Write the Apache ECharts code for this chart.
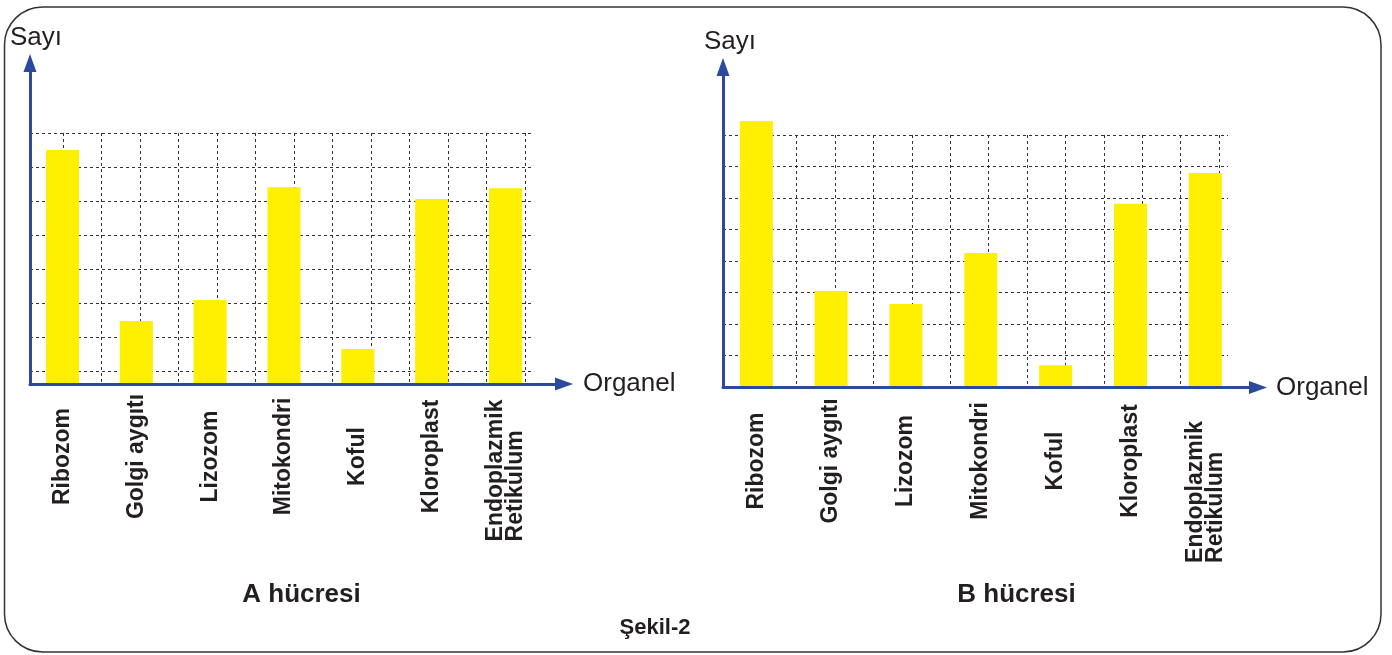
<!DOCTYPE html>
<html>
<head>
<meta charset="utf-8">
<script src="https://cdn.jsdelivr.net/npm/echarts@6/dist/echarts.min.js"></script>
<style>
html,body{margin:0;padding:0;background:#ffffff;}
#c{width:1392px;height:655px;}
</style>
</head>
<body>
<div id="c"></div>
<script>
// ---------- data ----------
const categories = ['Ribozom', 'Golgi aygıtı', 'Lizozom', 'Mitokondri', 'Koful', 'Kloroplast', 'Endoplazmik\nRetikulum'];
// values in grid-square units ("Sayı")
const valuesA = [6.88, 1.85, 2.47, 5.79, 1.03, 5.44, 5.76];
const valuesB = [8.46, 3.06, 2.65, 4.27, 0.71, 5.83, 6.81];
const titleA = 'A hücresi';
const titleB = 'B hücresi';
const figureTitle = 'Şekil-2';
const yAxisName = 'Sayı';
const xAxisName = 'Organel';
const hRowsA = 7, vColsA = 12;
const hRowsB = 8, vColsB = 12;
const barMaxA = 7.5, barMaxB = 9;

// ---------- styling ----------
const FONT = "'Liberation Sans', Arial, Helvetica, sans-serif";
const TXT = '#231f20';
const BLUE = '#2b4a9e';
const YELLOW = '#ffef00';
const GRIDLINE = { color: '#333', width: 1, type: [3, 3] };

const grids = [], xAxes = [], yAxes = [], series = [];

function hidden(extra) {
  return Object.assign({
    type: 'value', min: 0, max: 1,
    axisLine: { show: false }, axisTick: { show: false },
    axisLabel: { show: false }, splitLine: { show: false }
  }, extra || {});
}

function addChart(cfg) {
  // 1) axes with arrows
  let g = grids.length;
  grids.push(cfg.axes);
  xAxes.push(hidden({
    gridIndex: g, position: 'bottom', z: 5,
    axisLine: { show: true, onZero: false, symbol: ['none', 'triangle'], symbolSize: [13, 18],
      lineStyle: { color: BLUE, width: 3 } },
    name: xAxisName, nameLocation: 'end', nameGap: cfg.xNameGap,
    nameTextStyle: { fontSize: 26, color: TXT, fontFamily: FONT }
  }));
  yAxes.push(hidden({
    gridIndex: g, position: 'left', z: 5,
    axisLine: { show: true, onZero: false, symbol: ['none', 'triangle'], symbolSize: [13, 18],
      lineStyle: { color: BLUE, width: 3 } },
    name: yAxisName, nameLocation: 'end', nameGap: 12,
    nameTextStyle: { fontSize: 26, color: TXT, fontFamily: FONT, padding: [0, 0, 0, cfg.yNamePad] }
  }));

  // 2) horizontal dashed grid lines
  g = grids.length;
  grids.push(cfg.hgrid);
  xAxes.push(hidden({ gridIndex: g }));
  yAxes.push(hidden({ gridIndex: g, max: cfg.hRows, interval: 1,
    splitLine: { show: true, showMinLine: true, showMaxLine: true, lineStyle: GRIDLINE } }));

  // 3) vertical dashed grid lines
  g = grids.length;
  grids.push(cfg.vgrid);
  xAxes.push(hidden({ gridIndex: g, max: cfg.vCols, interval: 1,
    splitLine: { show: true, showMinLine: true, showMaxLine: true, lineStyle: GRIDLINE } }));
  yAxes.push(hidden({ gridIndex: g }));

  // 4) bars + category labels
  g = grids.length;
  grids.push(cfg.bars);
  xAxes.push({
    type: 'category', gridIndex: g, data: categories, boundaryGap: true,
    axisLine: { show: false }, axisTick: { show: false }, splitLine: { show: false },
    axisLabel: {
      interval: 0, rotate: 90, align: 'center', verticalAlign: 'middle', margin: cfg.labelMargin,
      hideOverlap: false,
      formatter: function (v) {
        const parts = v.split('\n');
        if (parts.length === 1) return '{s|' + v + '}';
        return '{a|' + parts[0] + '}\n{b|' + parts[1] + '}';
      },
      rich: {
        s: { fontSize: 23, fontWeight: 'bold', color: TXT, fontFamily: FONT },
        a: { fontSize: 23, fontWeight: 'bold', color: TXT, fontFamily: FONT, lineHeight: 20, align: 'left', padding: [0, cfg.erPad, 0, 0] },
        b: { fontSize: 23, fontWeight: 'bold', color: TXT, fontFamily: FONT, lineHeight: 20, align: 'left' }
      }
    }
  });
  yAxes.push(hidden({ gridIndex: g, max: cfg.barMax, show: false }));
  series.push({
    type: 'bar', xAxisIndex: g, yAxisIndex: g, data: cfg.values,
    barWidth: 33, itemStyle: { color: YELLOW }, z: 2, silent: true
  });
}

addChart({
  axes: { left: 30, top: 63, width: 534, height: 321 },
  hgrid: { left: 30, top: 133, width: 503, height: 238 },
  vgrid: { left: 63, top: 133, width: 462, height: 251 },
  bars: { left: 25.6, top: 129, width: 516.8, height: 255 },
  hRows: hRowsA, vCols: vColsA, barMax: barMaxA, values: valuesA,
  labelMargin: 72.5, erPad: 28, xNameGap: 19, yNamePad: 12
});
addChart({
  axes: { left: 723, top: 67, width: 535, height: 320.5 },
  hgrid: { left: 723, top: 135, width: 505, height: 252 },
  vgrid: { left: 758.3, top: 135, width: 460.7, height: 252.5 },
  bars: { left: 718.9, top: 104, width: 523.8, height: 283.5 },
  hRows: hRowsB, vCols: vColsB, barMax: barMaxB, values: valuesB,
  labelMargin: 73.5, erPad: 62, xNameGap: 18, yNamePad: 14
});

const titleStyle = { fontSize: 26, fontWeight: 'bold', color: TXT, fontFamily: FONT };
const option = {
  animation: false,
  backgroundColor: '#ffffff',
  title: [
    { text: titleA, left: 301.5, top: 582, textAlign: 'center', padding: 0, textStyle: titleStyle },
    { text: titleB, left: 1016.5, top: 582, textAlign: 'center', padding: 0, textStyle: titleStyle },
    { text: figureTitle, left: 655, top: 617, textAlign: 'center', padding: 0,
      textStyle: { fontSize: 22, fontWeight: 'bold', color: TXT, fontFamily: FONT } }
  ],
  graphic: [{
    type: 'rect', silent: true, z: -10,
    shape: { x: 4.5, y: 7, width: 1376.5, height: 645, r: 38 },
    style: { fill: 'rgba(0,0,0,0)', stroke: '#333333', lineWidth: 1.5 }
  }],
  grid: grids,
  xAxis: xAxes,
  yAxis: yAxes,
  series: series
};

const chart = echarts.init(document.getElementById('c'), null, { renderer: 'canvas' });
chart.setOption(option);
</script>
</body>
</html>
